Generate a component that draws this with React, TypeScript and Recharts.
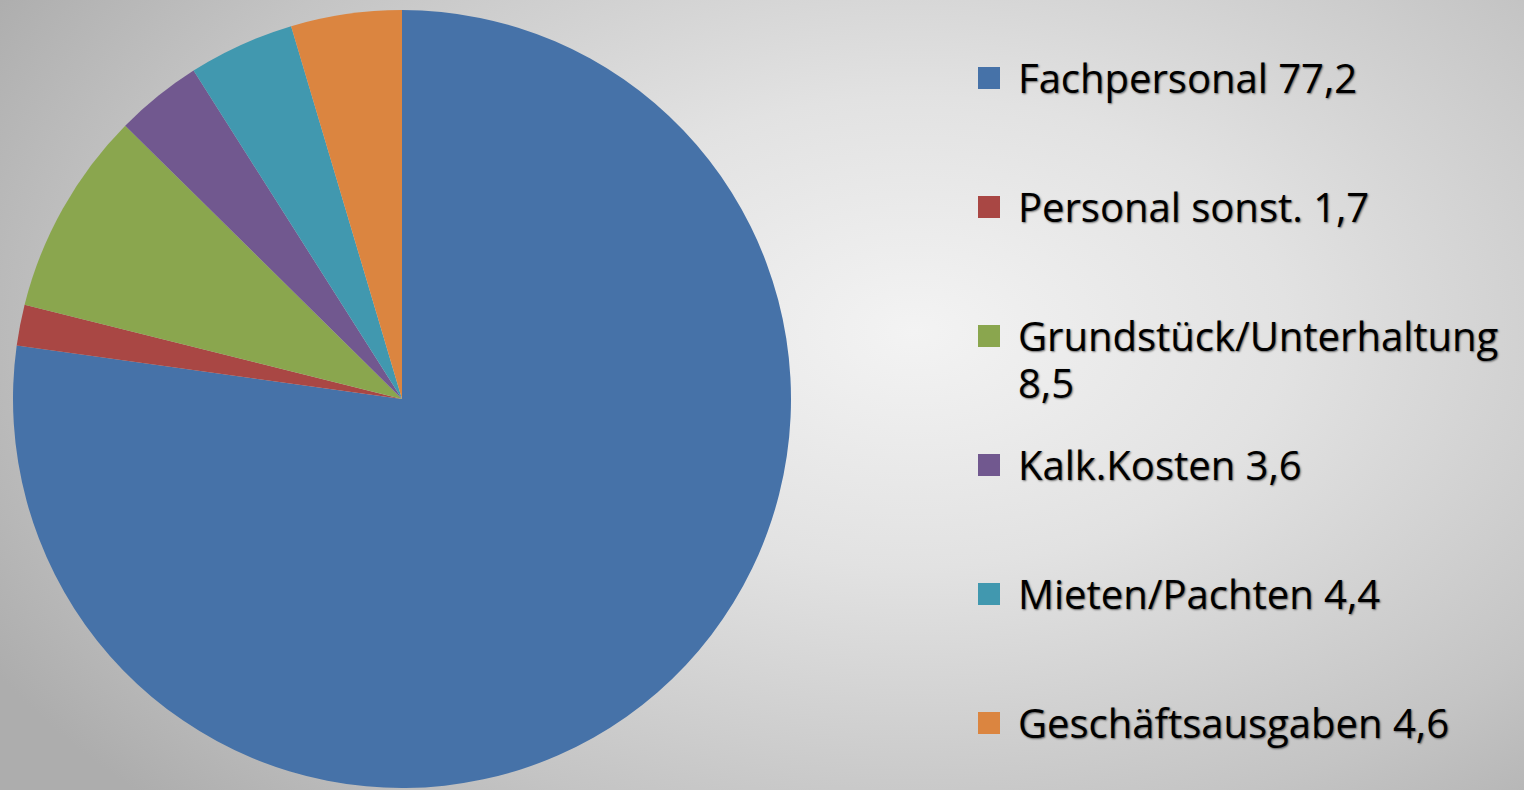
import { Cell, Legend, Pie, PieChart } from 'recharts';

const categories = [
  'Fachpersonal',
  'Personal sonst.',
  'Grundstück/Unterhaltung',
  'Kalk.Kosten',
  'Mieten/Pachten',
  'Geschäftsausgaben',
];
const shares = [77.2, 1.7, 8.5, 3.6, 4.4, 4.6];
const COLORS = ['#4672a8', '#a94744', '#8aa64e', '#71588f', '#4198af', '#db8540'];

const chartData = categories.map((name, i) => ({ name, value: shares[i] }));

const fmt = (v: number) => v.toFixed(1).replace('.', ',');

function CostLegend() {
  return (
    <div style={{ width: 540 }}>
      {chartData.map((entry, index) => (
        <div
          key={`legend-${index}`}
          style={{ display: 'flex', alignItems: 'flex-start', height: 129 }}
        >
          <span
            style={{
              display: 'inline-block',
              width: 22,
              height: 22,
              marginTop: 13,
              marginRight: 18,
              background: COLORS[index],
              flex: 'none',
            }}
          />
          <span
            style={{
              fontFamily: '"Open Sans", sans-serif',
              fontSize: 40,
              lineHeight: '47px',
              fontWeight: 400,
              color: '#000',
              textShadow: '1px 1px 2px rgba(0,0,0,0.55)',
              width: 510,
              whiteSpace: 'normal',
            }}
          >
            {entry.name} {fmt(entry.value)}
          </span>
        </div>
      ))}
    </div>
  );
}

export default function App() {
  return (
    <div
      style={{
        position: 'absolute',
        left: 0,
        top: 0,
        width: 1524,
        height: 790,
        overflow: 'hidden',
        background:
          'radial-gradient(ellipse 70% 85% at 60% 42%, #f3f3f3 0%, #e2e2e2 35%, #c4c4c4 75%, #adadad 100%)',
      }}
    >
      <PieChart width={1524} height={790} margin={{ top: 0, right: 0, bottom: 0, left: 0 }}>
        <Pie
          data={chartData}
          dataKey="value"
          nameKey="name"
          cx={402}
          cy={399}
          outerRadius={389}
          startAngle={90}
          endAngle={-270}
          stroke="none"
          isAnimationActive={false}
        >
          {chartData.map((entry, index) => (
            <Cell key={`cell-${index}`} fill={COLORS[index]} />
          ))}
        </Pie>
        <Legend
          content={() => <CostLegend />}
          wrapperStyle={{ position: 'absolute', left: 978, top: 54, width: 546 }}
        />
      </PieChart>
    </div>
  );
}
